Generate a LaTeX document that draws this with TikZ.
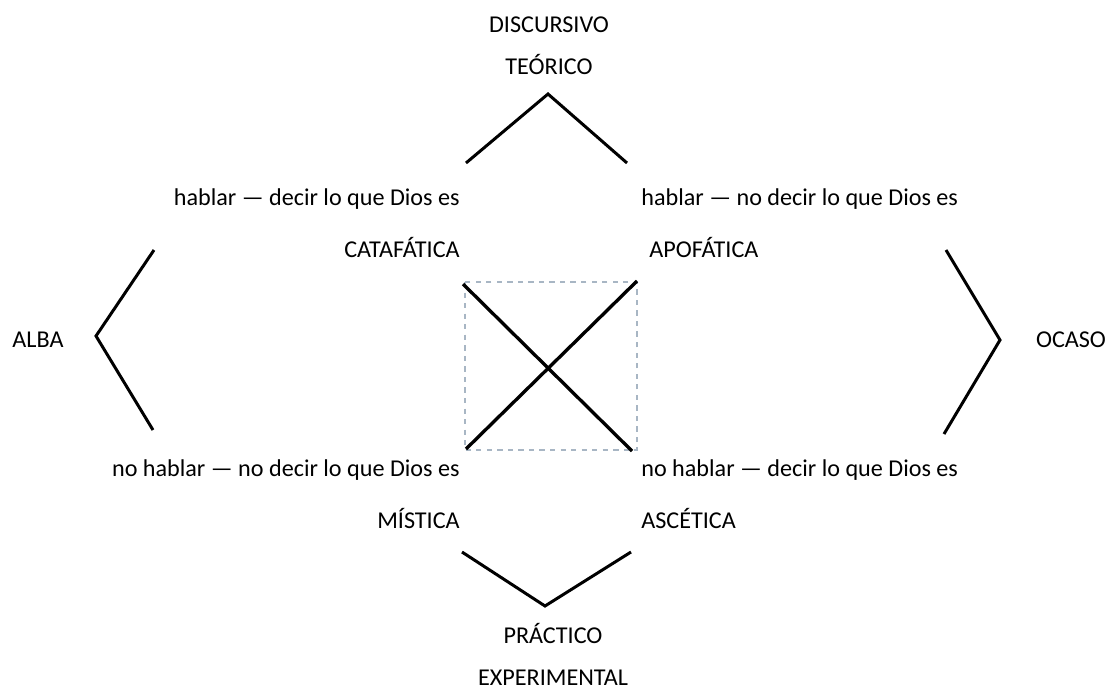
\documentclass[tikz,border=0pt]{standalone}
\usepackage{fontspec}
\setmainfont{Carlito}
\usetikzlibrary{positioning}
\definecolor{boxgray}{RGB}{168,182,196}

\begin{document}
\begin{tikzpicture}[x=0.02cm,y=-0.02cm, word/.style={font=\fontsize{13.75}{16}\selectfont, inner sep=0pt}, bracket/.style={line width=1.7pt, line join=miter}, cross/.style={line width=1.9pt}, box/.style={draw=boxgray, dashed, line width=0.6pt}]
  \useasboundingbox (0,0) rectangle (1109,690);

  % labels
  \node[word, anchor=base] (discursivo) at (549,32) {DISCURSIVO};
  \node[word, anchor=base] (teorico) at (549,74) {TEÓRICO};
  \node[word, anchor=base east] (hdecir) at (460,205) {hablar — decir lo que Dios es};
  \node[word, anchor=base east] (catafatica) at (460,257) {CATAFÁTICA};
  \node[word, anchor=base west] (hnodecir) at (641,205) {hablar — no decir lo que Dios es};
  \node[word, anchor=base west] (apofatica) at (649,257) {APOFÁTICA};
  \node[word, anchor=base] (alba) at (38,347) {ALBA};
  \node[word, anchor=base] (ocaso) at (1071,347) {OCASO};
  \node[word, anchor=base east] (nhnodecir) at (460,476) {no hablar — no decir lo que Dios es};
  \node[word, anchor=base east] (mistica) at (460,528) {MÍSTICA};
  \node[word, anchor=base west] (nhdecir) at (641,476) {no hablar — decir lo que Dios es};
  \node[word, anchor=base west] (ascetica) at (641,528) {ASCÉTICA};
  \node[word, anchor=base] (practico) at (553,643) {PRÁCTICO};
  \node[word, anchor=base] (experimental) at (553,685) {EXPERIMENTAL};

  % brackets
  \draw[bracket] (466,163) -- (548,94) -- (627,163);
  \draw[bracket] (154,250) -- (96,336) -- (153,430);
  \draw[bracket] (946,250) -- (1000,340) -- (944,434);
  \draw[bracket] (462,552) -- (545,606) -- (631,552);

  % square
  \draw[box] (465,282) rectangle (637,450);
  \coordinate (nw) at (463,284);
  \coordinate (se) at (632,451);
  \coordinate (ne) at (637,281);
  \coordinate (sw) at (466,449);
  \draw[cross] (nw) -- (se);
  \draw[cross] (ne) -- (sw);
\end{tikzpicture}
\end{document}
